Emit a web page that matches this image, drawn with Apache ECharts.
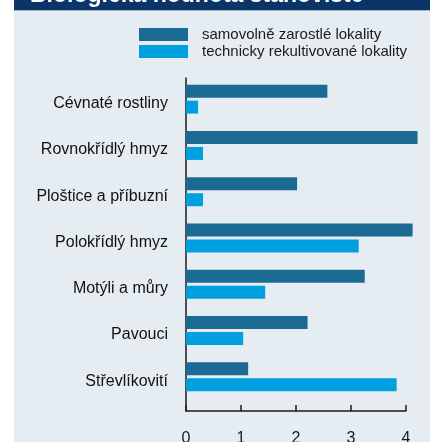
<!DOCTYPE html>
<html>
<head>
<meta charset="utf-8">
<script src="https://cdn.jsdelivr.net/npm/echarts@6/dist/echarts.min.js"></script>
<style>
html, body { margin: 0; padding: 0; background: #fff; }
#container { width: 430px; height: 442px; }
</style>
</head>
<body>
<div id="container"></div>
<script>
var categories = ['Cévnaté rostliny', 'Rovnokřídlý hmyz', 'Ploštice a příbuzní', 'Polokřídlý hmyz', 'Motýli a můry', 'Pavouci', 'Střevlíkovití'];
var seriesNames = ['samovolně zarostlé lokality', 'technicky rekultivované lokality'];
var naturalSites = [2.57, 4.21, 2.02, 4.12, 3.25, 2.21, 1.13];
var reclaimedSites = [0.22, 0.31, 0.31, 3.14, 1.44, 1.04, 3.83];
var xTicks = [0, 1, 2, 3, 4];

var dom = document.getElementById('container');
var myChart = echarts.init(dom);
var font = '"Liberation Sans", Arial, sans-serif';

var option = {
	backgroundColor: '#ffffff',
	animation: false,
	graphic: [
		// light panel + navy title bar
		{ type: 'rect', z: -10, shape: { x: 14, y: 0, width: 416, height: 442 }, style: { fill: '#e6edf2' } },
		{ type: 'rect', z: -9, shape: { x: 14, y: 0, width: 416, height: 10 }, style: { fill: '#0b3468' } },
		{ type: 'rect', z: -9, shape: { x: 14, y: 10, width: 416, height: 1 }, style: { fill: '#9fb6cc' } }
	],
	title: {
		text: 'Biologická hodnota stanoviště',
		left: 30,
		top: -16,
		padding: 0,
		textStyle: { color: '#ffffff', fontSize: 23, fontWeight: 'bold', fontFamily: font }
	},
	legend: {
		orient: 'vertical',
		left: 139,
		top: 27,
		padding: 0,
		itemWidth: 49,
		itemHeight: 13,
		itemGap: 2,
		icon: 'rect',
		textStyle: { fontFamily: font, fontSize: 15, color: '#1a1a1a', padding: [0, 0, 0, 9] },
		data: seriesNames
	},
	grid: [
		// bars: x scale runs to 4.4 so bars over 4 are not clipped
		{ left: 186, right: 2, top: 76, bottom: 42, outerBoundsMode: 'none' },
		// axes: the frame with ticks 0..4
		{ left: 186, right: 24, top: 78, bottom: 31, outerBoundsMode: 'none' }
	],
	xAxis: [
		{ gridIndex: 0, type: 'value', min: 0, max: 4.4, show: false },
		{
			gridIndex: 1, type: 'value', min: 0, max: 4, interval: 1,
			data: xTicks,
			axisLine: { show: true, lineStyle: { color: '#1a1a1a', width: 1.5 } },
			axisTick: { show: true, inside: true, length: 6, lineStyle: { color: '#1a1a1a', width: 1.5 } },
			axisLabel: { margin: 20, fontFamily: font, fontSize: 16, color: '#1a1a1a' },
			splitLine: { show: false }
		}
	],
	yAxis: [
		{
			gridIndex: 0, type: 'category', inverse: true, data: categories,
			axisLine: { show: false },
			axisTick: { show: false },
			axisLabel: { margin: 18, verticalAlign: 'top', lineHeight: 9, fontFamily: font, fontSize: 16, color: '#111' }
		},
		{
			gridIndex: 1, type: 'value', min: 0, max: 1,
			axisLine: { show: true, lineStyle: { color: '#1a1a1a', width: 1.5 } },
			axisTick: { show: false },
			axisLabel: { show: false },
			splitLine: { show: false }
		}
	],
	series: [
		{
			name: seriesNames[0], type: 'bar', xAxisIndex: 0, yAxisIndex: 0,
			barWidth: 13, barGap: '23%',
			itemStyle: { color: '#1b6a94' },
			data: naturalSites
		},
		{
			name: seriesNames[1], type: 'bar', xAxisIndex: 0, yAxisIndex: 0,
			barWidth: 13, barGap: '23%',
			itemStyle: { color: '#00a0e0' },
			data: reclaimedSites
		}
	]
};
myChart.setOption(option, true);
</script>
</body>
</html>
